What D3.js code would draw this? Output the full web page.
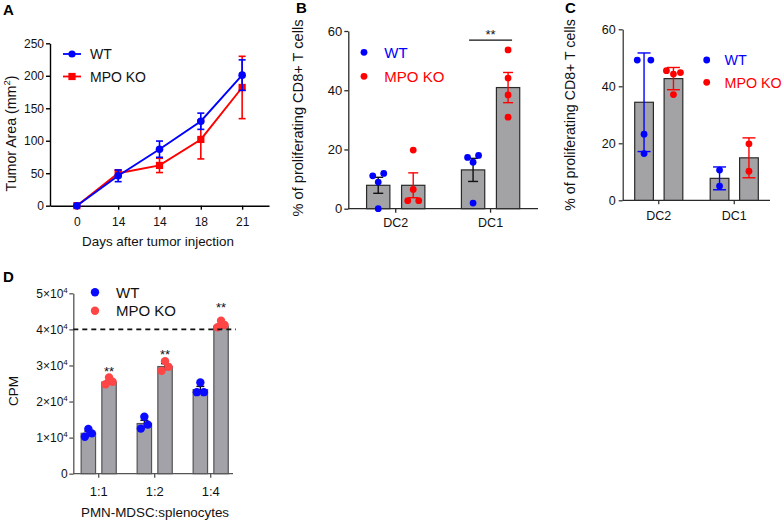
<!DOCTYPE html>
<html><head><meta charset="utf-8">
<script src="https://cdn.jsdelivr.net/npm/d3@7"></script>
<style>
body{margin:0;background:#fff;}
svg text{font-family:"Liberation Sans",Arial,Helvetica,sans-serif;}
</style></head><body>
<svg id="c" width="783" height="520"></svg>
<script>
// ---------- Panel A data ----------
const dayLabels = ["0","14","14","18","21"];
const aWtMean = [0,46,87,130,201];
const aWtErr  = [0,9,12.5,12.5,23.5];
const aKoMean = [0,50,62,102,182];
const aKoErr  = [0,5,11,30,48];
const aYTicks = [0,50,100,150,200,250];

// ---------- Panel B data ----------
const groupsBC = ["DC2","DC1"];
const bWtMean = [7.9,13.1];
const bWtErr  = [2.7,3.9];
const bKoMean = [7.9,40.9];
const bKoErr  = [4.2,5.1];
const bWtPts  = [[11.1,11.9,9.0,0],[17.3,18.0,15.7,1.9]];
const bKoPts  = [[19.8,6.5,2.7,2.7],[53.6,44.1,38.4,30.9]];
const bYTicks = [0,20,40,60];
const bSig = {from:"DC1", level:56.9, label:"**"};

// ---------- Panel C data ----------
const cWtMean = [34.4,7.7];
const cWtErr  = [17.3,4.0];
const cKoMean = [42.7,14.9];
const cKoErr  = [3.9,7.0];
const cWtPts  = [[49.2,49.2,23.2,16.4],[10.6,5.0]];
const cKoPts  = [[45.5,44.3,44.8,37.1],[19.8,10.2]];
const cYTicks = [0,20,40,60];

// ---------- Panel D data ----------
const groupsD = ["1:1","1:2","1:4"];
const dWtMean = [11200,13900,23300];
const dWtErr  = [600,900,900];
const dKoMean = [25400,29700,40900];
const dKoErr  = [500,800,500];
const dWtPts  = [[12380,10260,11180],[15800,12500,13600],[25300,22600,22600]];
const dKoPts  = [[26700,24800,25500],[31200,28500,29600],[42400,40580,41210]];
const dYTicks = [0,10000,20000,30000,40000,50000];
const dRef = 40000;
const dStars = [29300,34100,47000];

const seriesNames = ["WT","MPO KO"];
const BLUE = "#0000ff", RED = "#ff0000";
const svg = d3.select("#c");

function styleAxis(g, color, w, fs){
  g.selectAll("path,line").attr("stroke", color).attr("stroke-width", w);
  g.selectAll("text").attr("fill","#111").style("font-size", fs+"px");
}
function panelLetter(t,x,y){
  svg.append("text").attr("x",x).attr("y",y).text(t)
    .style("font-size","15px").style("font-weight","bold").attr("fill","#000");
}

// ================= Panel A =================
(function(){
  const x = d3.scalePoint().domain(d3.range(dayLabels.length)).range([50,269]).padding(0.65);
  const y = d3.scaleLinear().domain([0,250]).range([205.7,43.3]);
  const g = svg.append("g");
  const gy = g.append("g").attr("transform","translate(50,0)")
    .call(d3.axisLeft(y).tickValues(aYTicks).tickSize(4).tickPadding(2).tickSizeOuter(0));
  styleAxis(gy,"#000",1.4,12);
  const gx = g.append("g").attr("transform","translate(0,205.7)")
    .call(d3.axisBottom(x).tickFormat(i=>dayLabels[i]).tickSize(4).tickPadding(8).tickSizeOuter(0));
  styleAxis(gx,"#000",1.4,12);

  const series = [
    {m:aKoMean,e:aKoErr,c:RED,shape:"sq"},
    {m:aWtMean,e:aWtErr,c:BLUE,shape:"ci"}
  ];
  series.forEach(s=>{
    g.append("path").datum(s.m)
      .attr("d", d3.line().x((d,i)=>x(i)).y(d=>y(d)))
      .attr("fill","none").attr("stroke",s.c).attr("stroke-width",1.9);
    s.m.forEach((v,i)=>{
      if(s.e[i]>0){
        const cx=x(i);
        g.append("line").attr("x1",cx).attr("x2",cx).attr("y1",y(v-s.e[i])).attr("y2",y(v+s.e[i])).attr("stroke",s.c).attr("stroke-width",1.6);
        [v-s.e[i],v+s.e[i]].forEach(t=>g.append("line").attr("x1",cx-3.5).attr("x2",cx+3.5).attr("y1",y(t)).attr("y2",y(t)).attr("stroke",s.c).attr("stroke-width",1.6));
      }
      if(s.shape==="ci") g.append("circle").attr("cx",x(i)).attr("cy",y(v)).attr("r",3.8).attr("fill",s.c);
      else g.append("rect").attr("x",x(i)-3.6).attr("y",y(v)-3.6).attr("width",7.2).attr("height",7.2).attr("fill",s.c);
    });
  });
  // legend
  const lg=[{n:seriesNames[0],c:BLUE,shape:"ci",y:54},{n:seriesNames[1],c:RED,shape:"sq",y:76.5}];
  lg.forEach(l=>{
    g.append("line").attr("x1",63).attr("x2",81).attr("y1",l.y).attr("y2",l.y).attr("stroke",l.c).attr("stroke-width",1.8);
    if(l.shape==="ci") g.append("circle").attr("cx",72).attr("cy",l.y).attr("r",3.6).attr("fill",l.c);
    else g.append("rect").attr("x",68.4).attr("y",l.y-3.6).attr("width",7.2).attr("height",7.2).attr("fill",l.c);
    g.append("text").attr("x",90).attr("y",l.y+5).text(l.n).style("font-size","14px").attr("fill","#111");
  });
  g.append("text").attr("transform","translate(15.5,133.5) rotate(-90)").attr("text-anchor","middle")
    .style("font-size","14.2px").attr("fill","#111")
    .call(t=>{t.append("tspan").text("Tumor Area (mm");t.append("tspan").text("2").attr("dy",-5.5).style("font-size","9.5px");t.append("tspan").text(")").attr("dy",5.5);});
  g.append("text").attr("x",158).attr("y",246).attr("text-anchor","middle").style("font-size","13.4px").attr("fill","#111").text("Days after tumor injection");
  panelLetter("A",3,15);
})();

// ================= Bar panel helper =================
function swarm(vals, yScale, thr, spacing){
  const idx = vals.map((v,i)=>i).sort((a,b)=>vals[a]-vals[b]);
  const off = vals.map(()=>0);
  let cl=[idx[0]];
  const flush=()=>{const c=cl.slice().sort((a,b)=>a-b);const n=c.length;const s=spacing(n);c.forEach((k,j)=>off[k]=(j-(n-1)/2)*s);};
  for(let j=1;j<idx.length;j++){
    if(Math.abs(yScale(vals[idx[j]])-yScale(vals[idx[j-1]]))<thr) cl.push(idx[j]);
    else {flush(); cl=[idx[j]];}
  }
  flush();
  return off;
}

function barPanel(o){
  const g = svg.append("g");
  const x = d3.scaleBand().domain(o.groups).range(o.xRange).padding(0);
  const sub = d3.scaleBand().domain([0,1]).range([-o.inner/2,o.inner/2]).paddingInner(o.pIn);
  const y = d3.scaleLinear().domain(o.yDomain).range(o.yRange);
  const gy = g.append("g").attr("transform",`translate(${o.xAxis0},0)`)
    .call(d3.axisLeft(y).tickValues(o.yTicks).tickSize(4).tickPadding(o.yPad).tickSizeOuter(0).tickFormat(o.yFmt||d3.format("d")));
  styleAxis(gy,o.axisColor,o.axisW,o.tickFs);
  if(o.yTickText) gy.selectAll(".tick text").text(null).each(function(d){o.yTickText(d3.select(this),d);});
  const gx = g.append("g").attr("transform",`translate(0,${o.yRange[0]})`)
    .call(d3.axisBottom(x).tickSize(4).tickPadding(o.xPad).tickSizeOuter(0));
  gx.select(".domain").remove();
  gx.append("line").attr("class","dm").attr("x1",o.xAxis0).attr("x2",o.xAxis1);
  styleAxis(gx,o.axisColor,o.axisW,o.catFs);

  const ser=[{m:o.wtMean,e:o.wtErr,p:o.wtPts,c:o.wtColor,ec:o.wtErrColor},{m:o.koMean,e:o.koErr,p:o.koPts,c:o.koColor,ec:o.koErrColor}];
  ser.forEach((s,si)=>{
    o.groups.forEach((gr,gi)=>{
      const bx = x(gr)+x.bandwidth()/2+sub(si);
      g.append("rect").attr("x",bx).attr("y",y(s.m[gi])).attr("width",sub.bandwidth())
        .attr("height",y(0)-y(s.m[gi])).attr("fill",o.barFill).attr("stroke",o.barStroke).attr("stroke-width",o.barW);
    });
  });
  ser.forEach((s,si)=>{
    o.groups.forEach((gr,gi)=>{
      const cx = x(gr)+x.bandwidth()/2+sub(si)+sub.bandwidth()/2;
      const lo=s.m[gi]-s.e[gi], hi=s.m[gi]+s.e[gi];
      g.append("line").attr("x1",cx).attr("x2",cx).attr("y1",y(lo)).attr("y2",y(hi)).attr("stroke",s.ec).attr("stroke-width",1.4);
      [lo,hi].forEach(t=>g.append("line").attr("x1",cx-o.cap/2).attr("x2",cx+o.cap/2).attr("y1",y(t)).attr("y2",y(t)).attr("stroke",s.ec).attr("stroke-width",1.4));
    });
  });
  ser.forEach((s,si)=>{
    o.groups.forEach((gr,gi)=>{
      const cx = x(gr)+x.bandwidth()/2+sub(si)+sub.bandwidth()/2;
      const offs = swarm(s.p[gi],y,o.thr,o.spacing);
      s.p[gi].forEach((v,k)=>g.append("circle").attr("cx",cx+offs[k]).attr("cy",y(v)).attr("r",o.r).attr("fill",s.c));
    });
  });
  return {g,x,y,sub};
}

// ================= Panel B =================
(function(){
  const P = barPanel({groups:groupsBC,xRange:[348.3,538],xAxis0:348.3,xAxis1:538,inner:58.3,pIn:0.334,
    yDomain:[0,60],yRange:[208.7,31],yTicks:bYTicks,yPad:2,xPad:5.5,axisColor:"#2a2a2a",axisW:1.3,tickFs:13,catFs:12.5,
    wtMean:bWtMean,wtErr:bWtErr,wtPts:bWtPts,koMean:bKoMean,koErr:bKoErr,koPts:bKoPts,
    wtColor:BLUE,koColor:RED,wtErrColor:"#111",koErrColor:RED,barFill:"#a3a3a6",barStroke:"#2a2a2a",barW:1.2,
    cap:10,r:3.4,thr:4.5,spacing:n=>11});
  const {g,x,y,sub}=P;
  const c0 = x(bSig.from)+x.bandwidth()/2+sub(0)+sub.bandwidth()/2;
  const c1 = x(bSig.from)+x.bandwidth()/2+sub(1)+sub.bandwidth()/2;
  g.append("line").attr("x1",c0-4).attr("x2",c1+4).attr("y1",y(bSig.level)).attr("y2",y(bSig.level)).attr("stroke","#111").attr("stroke-width",1.2);
  g.append("text").attr("x",(c0+c1)/2).attr("y",y(bSig.level)-1).attr("text-anchor","middle").style("font-size","13px").attr("fill","#111").text(bSig.label);
  const lg=[{n:seriesNames[0],c:BLUE,y:52.3},{n:seriesNames[1],c:RED,y:76.3}];
  lg.forEach(l=>{
    g.append("circle").attr("cx",364).attr("cy",l.y).attr("r",3.4).attr("fill",l.c);
    g.append("text").attr("x",384.3).attr("y",l.y+5.5).text(l.n).style("font-size","15px").attr("fill",l.c);
  });
  g.append("text").attr("transform","translate(303,118) rotate(-90)").attr("text-anchor","middle")
    .style("font-size","14.6px").attr("fill","#111").text("% of proliferating CD8+ T cells");
  panelLetter("B",296,13);
})();

// ================= Panel C =================
(function(){
  const P = barPanel({groups:groupsBC,xRange:[621,772],xAxis0:622.7,xAxis1:770,inner:48.1,pIn:0.364,
    yDomain:[0,60],yRange:[200.3,29.3],yTicks:cYTicks,yPad:3,xPad:7,axisColor:"#2a2a2a",axisW:1.2,tickFs:12.5,catFs:12.5,
    wtMean:cWtMean,wtErr:cWtErr,wtPts:cWtPts,koMean:cKoMean,koErr:cKoErr,koPts:cKoPts,
    wtColor:BLUE,koColor:RED,wtErrColor:BLUE,koErrColor:RED,barFill:"#a3a3a6",barStroke:"#2a2a2a",barW:1.2,
    cap:13,r:3.4,thr:4.5,spacing:n=>n===2?13.6:7});
  const {g}=P;
  const lg=[{n:seriesNames[0],c:BLUE,y:60},{n:seriesNames[1],c:RED,y:82.3}];
  lg.forEach(l=>{
    g.append("circle").attr("cx",706.7).attr("cy",l.y).attr("r",3.4).attr("fill",l.c);
    g.append("text").attr("x",724.5).attr("y",l.y+5.3).text(l.n).style("font-size","14.3px").attr("fill",l.c);
  });
  g.append("text").attr("transform","translate(575,115) rotate(-90)").attr("text-anchor","middle")
    .style("font-size","14.2px").attr("fill","#111").text("% of proliferating CD8+ T cells");
  panelLetter("C",565,13);
})();

// ================= Panel D =================
(function(){
  const P = barPanel({groups:groupsD,xRange:[70.7,238.7],xAxis0:73.3,xAxis1:233,inner:35.1,pIn:0.304,
    yDomain:[0,50000],yRange:[473.7,293.3],yTicks:dYTicks,yPad:1.5,xPad:9,axisColor:"#555",axisW:1.3,tickFs:12,catFs:13,
    yTickText:(t,d)=>{ if(d===0){t.text("0");return;} t.append("tspan").text((d/10000)+"\u00d710"); t.append("tspan").text("4").attr("dy",-5).style("font-size","8px"); },
    wtMean:dWtMean,wtErr:dWtErr,wtPts:dWtPts,koMean:dKoMean,koErr:dKoErr,koPts:dKoPts,
    wtColor:"#0a0aff",koColor:"#ff4545",wtErrColor:"#111",koErrColor:"#111",barFill:"#a2a2a8",barStroke:"#555",barW:1.2,
    cap:8,r:4.2,thr:4.2,spacing:n=>7});
  const {g,x,y,sub}=P;
  g.append("line").attr("x1",73.3).attr("x2",236).attr("y1",y(dRef)).attr("y2",y(dRef))
    .attr("stroke","#111").attr("stroke-width",1.6).attr("stroke-dasharray","5,4");
  groupsD.forEach((gr,gi)=>{
    const cx = x(gr)+x.bandwidth()/2+sub(1)+sub.bandwidth()/2;
    g.append("text").attr("x",cx).attr("y",y(dStars[gi])+8).attr("text-anchor","middle").style("font-size","13px").attr("fill","#111").text("**");
  });
  const lg=[{n:seriesNames[0],c:"#0a0aff",y:292.3},{n:seriesNames[1],c:"#ff4545",y:310.7}];
  lg.forEach(l=>{
    g.append("circle").attr("cx",95).attr("cy",l.y).attr("r",4.2).attr("fill",l.c);
    g.append("text").attr("x",116).attr("y",l.y+5.5).text(l.n).style("font-size","15px").attr("fill","#111");
  });
  g.append("text").attr("transform","translate(18,391) rotate(-90)").attr("text-anchor","middle")
    .style("font-size","13.5px").attr("fill","#111").text("CPM");
  g.append("text").attr("x",155).attr("y",516.5).attr("text-anchor","middle").style("font-size","13.4px").attr("fill","#111").text("PMN-MDSC:splenocytes");
  panelLetter("D",3,282);
})();
</script>
</body></html>
